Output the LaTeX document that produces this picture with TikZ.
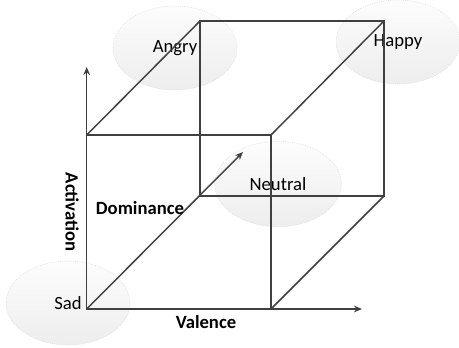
\documentclass[tikz,border=0pt]{standalone}
\usepackage{fontspec}
\setmainfont{Carlito}
\usetikzlibrary{arrows.meta,positioning,calc,shapes.geometric}

\begin{document}
\begin{tikzpicture}[x=0.75pt,y=-0.75pt,
  edge/.style={draw=black!75,line width=1.1pt},
  axis/.style={edge,-{Stealth[length=6pt,width=5pt]}},
  mood/.style={ellipse,minimum width=93pt,minimum height=63pt,inner sep=0pt,
    top color=gray!2,bottom color=gray!14,draw=gray!35,densely dotted,thin,
    font=\fontsize{14}{16}\selectfont},
  axlabel/.style={font=\bfseries\fontsize{14}{16}\selectfont}]
  \useasboundingbox (0,0) rectangle (459,347);
  % corners of the cube
  \coordinate (fbl) at (86.7,309);
  \coordinate (fbr) at (271,309);
  \coordinate (ftl) at (86.7,135);
  \coordinate (ftr) at (271,135);
  \coordinate (bbl) at (200,196);
  \coordinate (bbr) at (384,196);
  \coordinate (btl) at (200,21);
  \coordinate (btr) at (384,21);
  % axis ends
  \coordinate (actend) at (86.7,67);
  \coordinate (valend) at (362,309);
  \coordinate (domend) at (243,152);
  % emotions
  \node[mood] (angry) at (175,48) {Angry};
  \node[mood] (happy) at (398,42) {Happy};
  \node[mood,minimum width=95pt,minimum height=64pt] (neutral) at (278,184) {Neutral};
  \node[mood] (sad) at (68,303) {Sad};
  % cube
  \draw[edge] (ftl) rectangle (fbr);
  \draw[edge] (btl) rectangle (bbr);
  \draw[edge] (ftl) -- (btl);
  \draw[edge] (ftr) -- (btr);
  \draw[edge] (fbr) -- (bbr);
  % axes
  \draw[axis] (fbl) -- (actend);
  \draw[axis] (fbl) -- (valend);
  \draw[axis] (fbl) -- (domend);
  \node[axlabel,rotate=-90] (actlabel) at (72,212) {Activation};
  \node[axlabel] (domlabel) at (140,208) {Dominance};
  \node[axlabel] (vallabel) at (206,322) {Valence};
\end{tikzpicture}
\end{document}
